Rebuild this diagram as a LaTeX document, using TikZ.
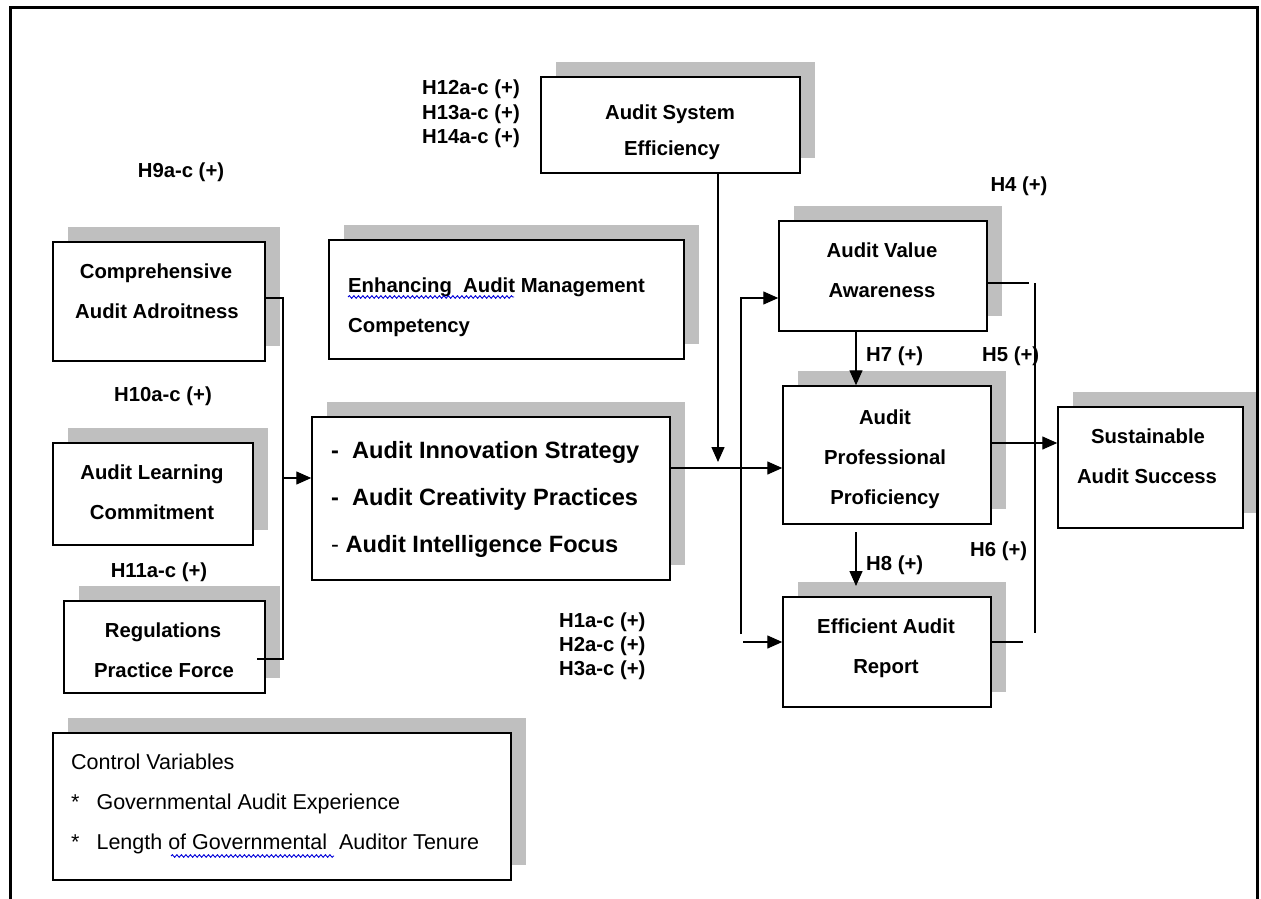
\documentclass[tikz,border=0pt]{standalone}
\usepackage{fontspec}
\setmainfont{Liberation Sans}
\usetikzlibrary{arrows.meta,shadows,decorations.pathmorphing}
\definecolor{shadowgray}{RGB}{191,191,191}
\newcommand\hfnt{\fontsize{20.3}{24}\selectfont\bfseries}
\newcommand\bigfnt{\fontsize{23.6}{28}\selectfont\bfseries}
\newcommand\ctlfnt{\fontsize{21.5}{26}\selectfont}
\begin{document}
\begin{tikzpicture}[x=1pt,y=-1pt,
  box/.style={draw, line width=1.5pt, fill=white, inner sep=0pt,
    general shadow={fill=shadowgray, draw=none, shadow xshift=15pt, shadow yshift=15pt}},
  txt/.style={font=\hfnt, inner sep=0pt, anchor=base},
  ltxt/.style={font=\hfnt, inner sep=0pt, anchor=base west},
  rtxt/.style={font=\hfnt, inner sep=0pt, anchor=base east},
  btxt/.style={font=\bigfnt, inner sep=0pt, anchor=base west},
  ctxt/.style={font=\ctlfnt, inner sep=0pt, anchor=base west},
  ln/.style={line width=1.4pt},
  arr/.style={line width=1.4pt, -{Triangle[length=15pt,width=13pt]}},
  wavy/.style={draw=blue!85!black, line width=0.9pt, decorate,
    decoration={snake, amplitude=1.3pt, segment length=4.5pt}}
]
\useasboundingbox (0,0) rectangle (1261,899);

% boxes
\node[box, minimum width=259pt, minimum height=96pt]  (ase) at (670.5,125) {};
\node[box, minimum width=355pt, minimum height=119pt] (emc) at (506.5,299.5) {};
\node[box, minimum width=212pt, minimum height=119pt] (caa) at (159,301.5) {};
\node[box, minimum width=200pt, minimum height=102pt] (alc) at (153,494) {};
\node[box, minimum width=201pt, minimum height=92pt]  (rpf) at (164.5,647) {};
\node[box, minimum width=358pt, minimum height=163pt] (ias) at (491,498.5) {};
\node[box, minimum width=208pt, minimum height=110pt] (ava) at (883,276) {};
\node[box, minimum width=208pt, minimum height=138pt] (app) at (887,455) {};
\node[box, minimum width=185pt, minimum height=121pt] (sas) at (1150.5,467.5) {};
\node[box, minimum width=208pt, minimum height=110pt] (ear) at (887,652) {};
\node[box, minimum width=458pt, minimum height=147pt] (ctl) at (282,806.5) {};

% box texts
\node[txt] (ase1) at (670,119) {Audit System};
\node[txt] (ase2) at (672,155) {Efficiency};
\node[ltxt] (emc1) at (348,292) {Enhancing\ \ Audit Management};
\node[ltxt] (emc2) at (348,332) {Competency};
\node[txt] (caa1) at (156,278) {Comprehensive};
\node[txt] (caa2) at (157,318) {Audit Adroitness};
\node[txt] (alc1) at (152,479) {Audit Learning};
\node[txt] (alc2) at (152,519) {Commitment};
\node[txt] (rpf1) at (163,637) {Regulations};
\node[txt] (rpf2) at (164,677) {Practice Force};
\node[btxt] (ias1) at (331,458) {-\ \ Audit Innovation Strategy};
\node[btxt] (ias2) at (331,505) {-\ \ Audit Creativity Practices};
\node[btxt] (ias3) at (331,552) {{\mdseries -} Audit Intelligence Focus};
\node[txt] (ava1) at (882,257) {Audit Value};
\node[txt] (ava2) at (882,297) {Awareness};
\node[txt] (app1) at (885,424) {Audit};
\node[txt] (app2) at (885,464) {Professional};
\node[txt] (app3) at (885,504) {Proficiency};
\node[txt] (sas1) at (1148,443) {Sustainable};
\node[txt] (sas2) at (1147,483) {Audit Success};
\node[txt] (ear1) at (886,633) {Efficient Audit};
\node[txt] (ear2) at (886,673) {Report};
\node[ctxt] (ctl1) at (71,769) {Control Variables};
\node[ctxt] (ctl2) at (71,809) {*\hspace{17pt}Governmental Audit Experience};
\node[ctxt] (ctl3) at (71,849) {*\hspace{17pt}Length of\ Governmental\ \ Auditor Tenure};

% hypothesis labels
\node[rtxt] (h12) at (520,95) {H12a-c (+)};
\node[rtxt] (h13) at (520,119) {H13a-c (+)};
\node[rtxt] (h14) at (520,143) {H14a-c (+)};
\node[txt] (h9) at (181,177) {H9a-c (+)};
\node[txt] (h10) at (163,401) {H10a-c (+)};
\node[txt] (h11) at (159,577) {H11a-c (+)};
\node[ltxt] (h1) at (559,627) {H1a-c (+)};
\node[ltxt] (h2) at (559,651) {H2a-c (+)};
\node[ltxt] (h3) at (559,675) {H3a-c (+)};
\node[txt] (h4) at (1019,191) {H4 (+)};
\node[ltxt] (h7l) at (866,361) {H7 (+)};
\node[ltxt] (h5) at (982,361) {H5 (+)};
\node[ltxt] (h8l) at (866,570) {H8 (+)};
\node[ltxt] (h6) at (970,556) {H6 (+)};

% connectors
\coordinate (jt) at (283,298);
\coordinate (jb) at (283,659);
\coordinate (jm) at (283,478);
\draw[ln] (caa.east |- jt) -- (jt) -- (jb) -- ([xshift=-9pt]rpf.east |- jb);
\draw[arr] (jm) -- (ias.west |- jm);
\coordinate (hm) at (700,468);
\draw[arr] (ias.east |- hm) -- (app.west |- hm);
\coordinate (dv) at (718,462);
\draw[arr] (ase.south -| dv) -- (dv);
\coordinate (lt) at (741,298);
\coordinate (lb) at (741,634);
\coordinate (lr) at (743,642);
\draw[arr] (lb) -- (lt) -- (ava.west |- lt);
\draw[arr] (lr) -- (ear.west |- lr);
\coordinate (h7x) at (856,0);
\draw[arr] (ava.south -| h7x) -- (app.north -| h7x);
\coordinate (h8s) at (856,532);
\coordinate (h8e) at (856,586);
\draw[arr] (h8s) -- (h8e);
\coordinate (so) at (1000,443);
\draw[arr] (app.east |- so) -- (sas.west |- so);
\coordinate (ro) at (1029,283);
\draw[ln] (ava.east |- ro) -- (ro);
\coordinate (rv1) at (1035,283);
\coordinate (rv2) at (1035,633);
\draw[ln] (rv1) -- (rv2);
\coordinate (eo) at (1023,642);
\draw[ln] (ear.east |- eo) -- (eo);

% spell-check underlines
\coordinate (w1a) at (348,297);
\coordinate (w1b) at (514,297);
\draw[wavy] (w1a) -- (w1b);
\coordinate (w2a) at (171,856);
\coordinate (w2b) at (334,856);
\draw[wavy] (w2a) -- (w2b);

% frame
\draw[line width=3.5pt] (10.5,899) -- (10.5,7.5) -- (1257.5,7.5) -- (1257.5,899);
\end{tikzpicture}
\end{document}
